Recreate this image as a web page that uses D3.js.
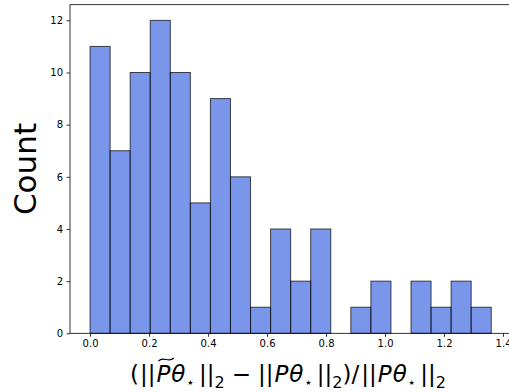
<!DOCTYPE html>
<html>
<head>
<meta charset="utf-8">
<script src="https://cdn.jsdelivr.net/npm/d3@7"></script>
<style>
  body { margin: 0; background: #fff; }
  svg { display: block; font-family: "DejaVu Sans", sans-serif; }
</style>
</head>
<body>
<div id="wrapper"></div>
<script>
// histogram counts per bin
const binEdges = [0, 0.068, 0.136, 0.204, 0.272, 0.34, 0.408, 0.476, 0.544, 0.612,
  0.68, 0.748, 0.816, 0.884, 0.952, 1.02, 1.088, 1.156, 1.224, 1.292, 1.36]
const counts = [11, 7, 10, 12, 10, 5, 9, 6, 1, 4, 2, 4, 0, 1, 2, 0, 2, 1, 2, 1]
const xTicks = [0.0, 0.2, 0.4, 0.6, 0.8, 1.0, 1.2, 1.4]
const yTicks = [0, 2, 4, 6, 8, 10, 12]

const width = 509, height = 392

const svg = d3.select("#wrapper").append("svg")
  .attr("width", width)
  .attr("height", height)

const x = d3.scaleLinear().domain([-0.068, 1.428]).range([70, 511.3])
const y = d3.scaleLinear().domain([0, 12.6]).range([333.3, 4.7])

const bins = counts.map((c, i) => ({x0: binEdges[i], x1: binEdges[i + 1], count: c}))

svg.append("g").selectAll("rect")
  .data(bins.filter(d => d.count > 0))
  .enter().append("rect")
  .attr("x", d => x(d.x0))
  .attr("width", d => x(d.x1) - x(d.x0))
  .attr("y", d => y(d.count))
  .attr("height", d => y(0) - y(d.count))
  .attr("fill", "royalblue")
  .attr("fill-opacity", 0.7)
  .attr("stroke", "#000")
  .attr("stroke-opacity", 0.7)
  .attr("stroke-width", 1)

// axes
const xAxis = svg.append("g")
  .attr("transform", `translate(0,${y(0)})`)
  .call(d3.axisBottom(x).tickValues(xTicks).tickFormat(d3.format(".1f")).tickSize(3.5).tickPadding(3.5))
const yAxis = svg.append("g")
  .attr("transform", `translate(${x(-0.068)},0)`)
  .call(d3.axisLeft(y).tickValues(yTicks).tickSize(3.5).tickPadding(3.5))

;[xAxis, yAxis].forEach(a => {
  a.select(".domain").remove()
  a.selectAll("text").attr("font-size", 10).attr("font-family", "DejaVu Sans").attr("fill", "#000")
  a.selectAll("line").attr("stroke", "#000").attr("stroke-width", 0.8)
})

// spines
svg.append("rect")
  .attr("x", x(-0.068)).attr("y", y(12.6))
  .attr("width", x(1.428) - x(-0.068)).attr("height", y(0) - y(12.6))
  .attr("fill", "none").attr("stroke", "#000").attr("stroke-width", 0.8)

// y label
svg.append("text")
  .attr("transform", `translate(36,169) rotate(-90)`)
  .attr("text-anchor", "middle")
  .attr("font-size", 31)
  .text("Count")

// x label, laid out piece by piece like mathtext
// kind: n = normal, it = italic, star = subscript star, sub = subscript digit
const labelParts = [
  ["(", "n", 0], ["||", "n", 1], ["P", "it", 1, "tilde"], ["θ", "it", 1], ["★", "star", 0], ["||", "n", 0], ["2", "sub", 0],
  ["−", "n", 7], ["||", "n", 7], ["P", "it", 1], ["θ", "it", 1], ["★", "star", 0], ["||", "n", 0], ["2", "sub", 0],
  [")", "n", 0], ["/", "n", 0], ["||", "n", 2], ["P", "it", 1], ["θ", "it", 1], ["★", "star", 0], ["||", "n", 0], ["2", "sub", 0]
]
const baseY = 381.5
const label = svg.append("g").attr("font-family", "DejaVu Sans")
let cx = 130
let tildeBox = null
labelParts.forEach(([t, kind, gap, extra]) => {
  cx += gap
  if (kind === "star") {
    label.append("text")
      .attr("x", cx + 5).attr("y", baseY + 3.8)
      .attr("text-anchor", "middle")
      .attr("font-size", 7)
      .text(t)
    cx += 13.5
    return
  }
  const el = label.append("text")
    .attr("x", cx)
    .attr("y", kind === "sub" ? baseY + 6 : baseY)
    .attr("font-size", kind === "sub" ? 16 : 23)
    .attr("font-style", kind === "it" ? "italic" : null)
    .text(t)
  if (extra === "tilde") tildeBox = {x: cx, w: el.node().getComputedTextLength()}
  cx += el.node().getComputedTextLength()
})

// wide tilde over the first P
if (tildeBox) {
  const x0 = tildeBox.x + 2, w = tildeBox.w + 1.5, ty = 358
  svg.append("path")
    .attr("d", `M${x0},${ty + 3} C${x0 + w * 0.35},${ty - 2.5} ${x0 + w * 0.65},${ty + 5.5} ${x0 + w},${ty}`)
    .attr("fill", "none")
    .attr("stroke", "#000")
    .attr("stroke-width", 1.2)
}
</script>
</body>
</html>
